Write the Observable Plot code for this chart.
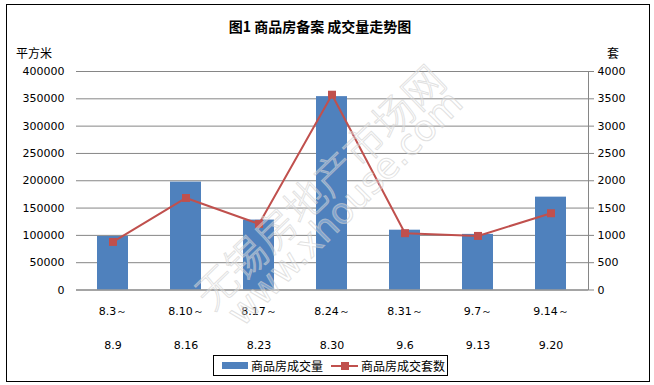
<!DOCTYPE html>
<html>
<head>
<meta charset="utf-8">
<script src="https://cdn.jsdelivr.net/npm/d3@7"></script>
<script src="https://cdn.jsdelivr.net/npm/@observablehq/plot@0.6"></script>
<style>
  html, body { margin: 0; padding: 0; background: #fff; }
  #wrap { position: relative; width: 654px; height: 385px; overflow: hidden; font-family: "Noto Sans CJK SC", "DejaVu Sans", sans-serif; }
  #wrap svg { position: absolute; left: 0; top: 0; }
  .abs { position: absolute; white-space: nowrap; }
  #border { position: absolute; left: 6px; top: 4px; width: 644px; height: 378px; border: 1px solid #000; box-sizing: border-box; pointer-events: none; }
  #title { left: 0; width: 640px; text-align: center; top: 16px; font-size: 14px; font-weight: bold; line-height: 20px; }
  #unitL { left: 16px; top: 44px; font-size: 12px; line-height: 18px; }
  #unitR { left: 607px; top: 44px; font-size: 12px; line-height: 18px; }
  #legend { left: 213px; top: 355px; width: 235px; height: 21px; border: 1px solid #000; box-sizing: border-box; display: flex; align-items: center; font-size: 12px; line-height: 18px; }
  .sw-bar { display: inline-block; width: 26px; height: 7px; background: #4F81BD; margin-left: 8px; margin-right: 3px; }
  .sw-line { position: relative; display: inline-block; width: 27px; height: 12px; margin-left: 8px; margin-right: 3px; }
  .sw-line::before { content: ""; position: absolute; left: 0; right: 0; top: 5px; height: 2px; background: #C0504D; }
  .sw-line::after { content: ""; position: absolute; left: 10px; top: 2px; width: 8px; height: 8px; background: #C0504D; }
  #wm { position: absolute; left: 0; top: 0; width: 654px; height: 385px; pointer-events: none; }
  .wmt { position: absolute; white-space: nowrap; color: rgba(255,255,255,0.3); -webkit-text-stroke: 1px rgba(205,205,205,0.6); transform-origin: center center; }
</style>
</head>
<body>
<div id="wrap">
  <div id="chart"></div>
  <div id="wm">
    <div class="wmt" id="wm1" style="left:148px; top:160px; width:340px; text-align:center; font-size:41px; font-family:'Noto Sans CJK SC'; font-weight:300; line-height:50px; transform: rotate(-44deg);">无锡房地产市场网</div>
    <div class="wmt" id="wm2" style="left:175px; top:188px; width:340px; text-align:center; font-size:36px; font-family:'DejaVu Sans'; font-weight:normal; line-height:40px; transform: rotate(-45deg);">www.xhouse.com</div>
  </div>
  <div class="abs" id="title">图1 商品房备案 成交量走势图</div>
  <div class="abs" id="unitL">平方米</div>
  <div class="abs" id="unitR">套</div>
  <div class="abs" id="legend"><span class="sw-bar"></span><span>商品房成交量</span><span class="sw-line"></span><span>商品房成交套数</span></div>
  <div id="border"></div>
</div>
<script>
const weekStart = ["8.3", "8.10", "8.17", "8.24", "8.31", "9.7", "9.14"];
const weekEnd = ["8.9", "8.16", "8.23", "8.30", "9.6", "9.13", "9.20"];
const areaSqm = [98000, 197500, 128000, 354000, 109500, 101800, 170000];
const unitsSold = [880, 1685, 1210, 3575, 1040, 990, 1405];
const leftTicks = [0, 50000, 100000, 150000, 200000, 250000, 300000, 350000, 400000];
const rightTickLabels = [0, 500, 1000, 1500, 2000, 2500, 3000, 3500, 4000];

const categories = weekStart.map((s, i) => s + "～" + weekEnd[i]);
const data = categories.map((c, i) => ({cat: c, start: weekStart[i] + "～", end: weekEnd[i], area: areaSqm[i], units: unitsSold[i]}));
// right axis (套) shares the frame with the left axis (平方米): 4000 套 ↔ 400000 平方米
const ratio = 400000 / 4000;

const chart = Plot.plot({
  width: 654,
  height: 385,
  marginLeft: 76,
  marginRight: 66,
  marginTop: 71,
  marginBottom: 95.5,
  style: {fontFamily: "DejaVu Sans, sans-serif", fontSize: "11px", background: "transparent", color: "#000", overflow: "visible"},
  x: {domain: categories, paddingInner: 0.575, paddingOuter: 0.2875, align: 0.5, axis: null},
  y: {domain: [0, 400000], axis: null},
  marks: [
    Plot.gridY(leftTicks, {stroke: "#868686", strokeOpacity: 1, strokeWidth: 1}),
    Plot.barY(data, {x: "cat", y: "area", fill: "#4F81BD"}),
    Plot.ruleY([0], {stroke: "#868686", strokeWidth: 1}),
    Plot.frame({anchor: "right", stroke: "#868686", strokeWidth: 1}),
    Plot.line(data, {x: "cat", y: d => d.units * ratio, stroke: "#C0504D", strokeWidth: 2}),
    Plot.dot(data, {x: "cat", y: d => d.units * ratio, symbol: "square", r: 4.5, fill: "#C0504D", stroke: "none"}),
    Plot.axisY({anchor: "left", ticks: leftTicks, tickSize: 0, tickPadding: 12, tickFormat: d => String(d), label: null, fill: "#000"}),
    Plot.axisY({anchor: "right", ticks: rightTickLabels.map(v => v * ratio), tickSize: 5, tickPadding: 4, stroke: "#868686", tickFormat: d => String(d / ratio), label: null, fill: "#000"}),
    Plot.text(data, {x: "cat", text: "start", frameAnchor: "bottom", dy: 21.5, lineAnchor: "middle", fill: "#000"}),
    Plot.text(data, {x: "cat", text: "end", frameAnchor: "bottom", dy: 55, lineAnchor: "middle", fill: "#000"})
  ]
});
document.getElementById("chart").appendChild(chart);
</script>
</body>
</html>
